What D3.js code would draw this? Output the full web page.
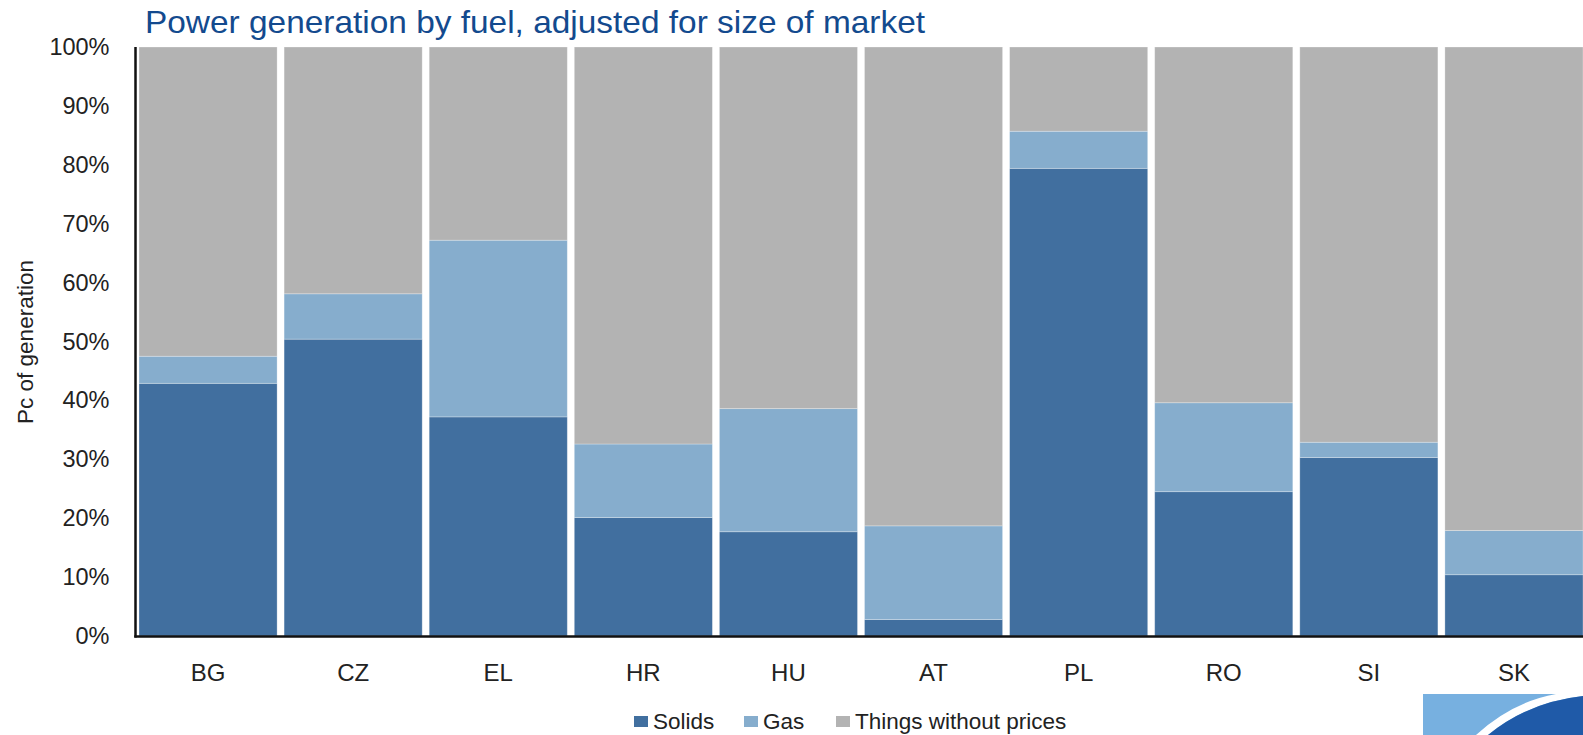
<!DOCTYPE html>
<html>
<head>
<meta charset="utf-8">
<script src="https://cdn.jsdelivr.net/npm/d3@7"></script>
<style>
  html, body { margin: 0; padding: 0; background: #fff; overflow: hidden; }
  svg { display: block; }
  text { font-family: "Liberation Sans", Arial, Helvetica, sans-serif; }
</style>
</head>
<body>
<svg id="chart" width="1583" height="735"></svg>
<script>
// ---- data ----
const categories = ["BG", "CZ", "EL", "HR", "HU", "AT", "PL", "RO", "SI", "SK"];
const solids = [42.9, 50.4, 37.2, 20.1, 17.7, 2.8, 79.4, 24.5, 30.3, 10.4];
const gas    = [4.6, 7.7, 30.0, 12.5, 20.9, 15.9, 6.3, 15.1, 2.6, 7.5];
const withoutPrices = categories.map((c, i) => 100 - solids[i] - gas[i]);
const seriesNames = ["Solids", "Gas", "Things without prices"];
const seriesColors = ["#416f9f", "#86adcd", "#b3b3b3"];
const yTicks = [0, 10, 20, 30, 40, 50, 60, 70, 80, 90, 100];

const rows = categories.map((c, i) => ({
  cat: c, "Solids": solids[i], "Gas": gas[i], "Things without prices": withoutPrices[i]
}));

const svg = d3.select("#chart");
const x0 = 135.5, step = 145.1, gap = 7;
const x = d3.scaleBand().domain(categories)
  .range([x0, x0 + step * categories.length])
  .paddingInner(gap / step).paddingOuter(gap / step / 2);
const y = d3.scaleLinear().domain([0, 100]).range([636, 47]);

const stack = d3.stack().keys(seriesNames)(rows);
const color = d3.scaleOrdinal().domain(seriesNames).range(seriesColors);

// bars
svg.append("g").selectAll("g").data(stack).join("g")
  .attr("fill", d => color(d.key))
  .selectAll("rect").data(d => d).join("rect")
  .attr("x", d => x(d.data.cat))
  .attr("width", x.bandwidth())
  .attr("y", d => y(d[1]))
  .attr("height", d => y(d[0]) - y(d[1]))
  .attr("stroke", "rgba(255,255,255,0.35)")
  .attr("stroke-width", 0.8);

// y axis ticks labels
const yAxis = d3.axisLeft(y).tickValues(yTicks).tickFormat(d => d + "%").tickSize(0).tickPadding(26);
const gy = svg.append("g").attr("transform", `translate(${x0},0)`).call(yAxis);
gy.select(".domain").remove();
gy.selectAll("text").attr("font-size", 23.5).attr("fill", "#222")
  .style("font-family", "'Liberation Sans', Arial, sans-serif");

// axis lines
svg.append("line").attr("x1", x0).attr("x2", x0).attr("y1", y(100)).attr("y2", y(0) + 1.5)
  .attr("stroke", "#111").attr("stroke-width", 2.5);
svg.append("line").attr("x1", x0 - 1.2).attr("x2", 1583).attr("y1", y(0) + 0.5).attr("y2", y(0) + 0.5)
  .attr("stroke", "#111").attr("stroke-width", 2.5);

// x axis labels
const xAxis = d3.axisBottom(x).tickSize(0).tickPadding(28);
const gx = svg.append("g").attr("transform", `translate(0,${y(0)})`).call(xAxis);
gx.select(".domain").remove();
gx.selectAll("text").attr("font-size", 24).attr("fill", "#222")
  .style("font-family", "'Liberation Sans', Arial, sans-serif");

// y axis title
svg.append("text")
  .attr("transform", "translate(33,342) rotate(-90)")
  .attr("text-anchor", "middle")
  .attr("font-size", 22.5).attr("fill", "#222")
  .text("Pc of generation");

// title
svg.append("text")
  .attr("x", 145).attr("y", 33)
  .attr("font-size", 32).attr("fill", "#134a8e")
  .attr("textLength", 780).attr("lengthAdjust", "spacingAndGlyphs")
  .text("Power generation by fuel, adjusted for size of market");

// legend
const legendX = [634, 744, 836];
const lg = svg.append("g").selectAll("g").data(seriesNames).join("g")
  .attr("transform", (d, i) => `translate(${legendX[i]},716)`);
lg.append("rect").attr("width", 14).attr("height", 11).attr("fill", d => color(d));
lg.append("text").attr("x", 19).attr("y", 12.5)
  .attr("font-size", 22.5).attr("fill", "#222").text(d => d);

// decorative logo corner
const logo = svg.append("g");
logo.append("rect").attr("x", 1423).attr("y", 694).attr("width", 160).attr("height", 41).attr("fill", "#77b0e0");
logo.append("path").attr("d", "M1476,735 Q1512,702 1556,694 L1583,694 L1583,696 Q1528,702 1488,735 Z").attr("fill", "#ffffff");
logo.append("path").attr("d", "M1488,735 Q1528,702 1583,696 L1583,735 Z").attr("fill", "#1f5aa8");
</script>
</body>
</html>
